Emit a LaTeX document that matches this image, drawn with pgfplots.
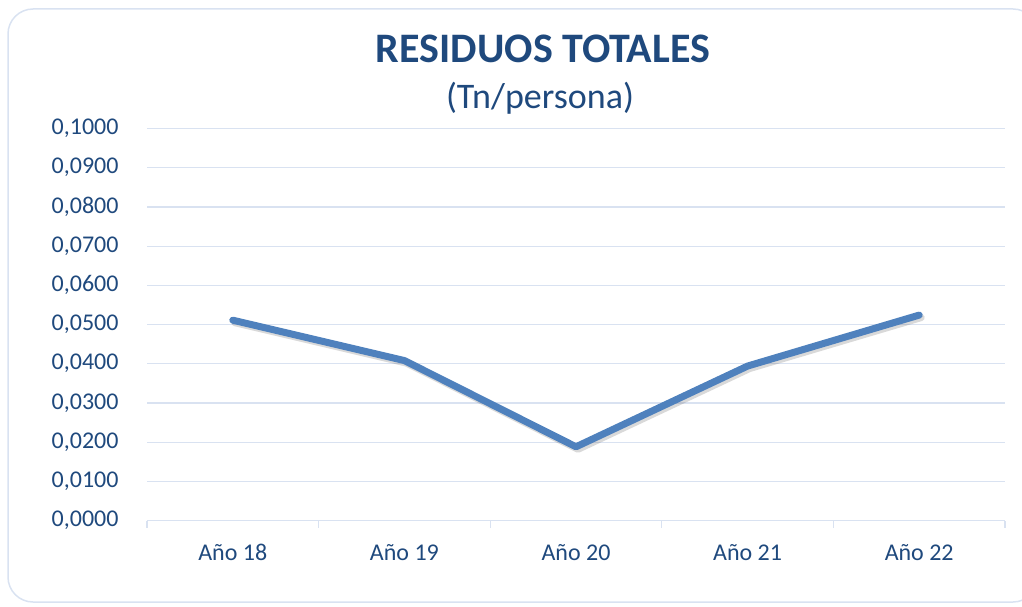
\documentclass[border=0pt]{standalone}
\usepackage{pgfplots}
\pgfplotsset{compat=1.18}
\usepackage{fontspec}
\setmainfont{Carlito}
\definecolor{txt}{HTML}{1F497D}
\definecolor{gridc}{HTML}{D9E2F1}
\definecolor{ln}{HTML}{4F81BD}
\begin{document}
\begin{tikzpicture}
\useasboundingbox (0pt,0pt) rectangle (1022pt,606pt);
\draw[gridc, line width=1.5pt, rounded corners=25pt] (8pt,4pt) rectangle (1038pt,597pt);
\node[txt, font=\fontsize{42}{50}\selectfont\bfseries, anchor=base, inner sep=0pt] at (543pt,543pt) {RESIDUOS TOTALES};
\node[txt, font=\fontsize{36}{43}\selectfont, anchor=base, inner sep=0pt] at (540pt,497.7pt) {(Tn/persona)};
\begin{axis}[
  at={(147pt,85.5pt)}, anchor=south west,
  scale only axis, width=858pt, height=392pt,
  xmin=-0.5, xmax=4.5, ymin=0, ymax=0.1,
  xtick={0,1,2,3,4},
  xticklabels={Año 18,Año 19,Año 20,Año 21,Año 22},
  minor xtick={-0.5,0.5,1.5,2.5,3.5,4.5},
  major x tick style={draw=none},
  minor x tick style={gridc, line width=1.2pt},
  minor tick length=7pt,
  tick align=outside,
  ytick={0,0.01,0.02,0.03,0.04,0.05,0.06,0.07,0.08,0.09,0.1},
  major y tick style={draw=none},
  ymajorgrids, grid style={gridc, line width=1.2pt},
  axis x line*=bottom, axis y line*=left,
  x axis line style={gridc, line width=1.2pt, -},
  y axis line style={draw=none},
  /pgf/number format/fixed, /pgf/number format/fixed zerofill,
  /pgf/number format/precision=4, /pgf/number format/use comma,
  /pgf/number format/assume math mode=true,
  yticklabel style={txt, font=\fontsize{24}{29}\selectfont, anchor=east, inner sep=0pt, xshift=-24pt},
  xticklabel style={txt, font=\fontsize{24}{29}\selectfont, anchor=base, inner sep=0pt, yshift=-35.5pt},
  clip=false,
]
\addplot[ln, line width=7pt, line join=round, line cap=round,
  preaction={draw=black!60, opacity=0.25, line width=7pt, transform canvas={xshift=2pt,yshift=-2.5pt}}]
  coordinates {(0,0.0511) (1,0.0408) (2,0.0188) (3,0.0394) (4,0.0524)};
\end{axis}
\end{tikzpicture}
\end{document}
